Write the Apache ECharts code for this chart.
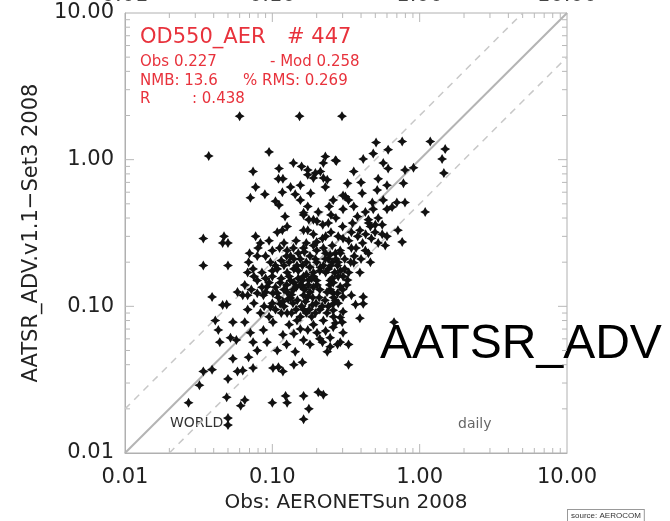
<!DOCTYPE html>
<html><head><meta charset="utf-8">
<script src="https://cdn.jsdelivr.net/npm/echarts@6/dist/echarts.min.js"></script>
<style>html,body{margin:0;padding:0;background:#fff}#c{width:670px;height:521px}</style>
</head><body><div id="c"></div>
<script>
const obsModPairs = [
[0.060,1.98],[0.153,1.98],[0.297,1.98],
[0.037,1.06],[0.095,1.13],[0.074,0.83],[0.111,0.87],[0.139,0.95],[0.158,0.90],[0.222,0.95],[0.229,1.05],[0.272,0.98],[0.174,0.79],
[0.190,0.75],[0.212,0.83],[0.236,0.73],[0.110,0.74],[0.118,0.74],[0.077,0.65],[0.133,0.65],[0.155,0.67],[0.182,0.59],[0.117,0.60],
[0.071,0.55],[0.089,0.58],[0.105,0.52],[0.111,0.49],[0.143,0.58],[0.229,0.65],[0.259,0.53],[0.313,0.56],[0.174,0.48],[0.122,0.41],
[0.163,0.42],[0.177,0.39],[0.205,0.44],[0.243,0.48],[0.201,0.38],[0.240,0.37],[0.302,0.46],[0.108,0.32],[0.117,0.33],[0.126,0.35],
[0.163,0.33],[0.190,0.31],[0.034,0.29],[0.047,0.30],[0.046,0.27],[0.050,0.27],[0.077,0.30],[0.083,0.27],[0.080,0.25],[0.070,0.23],
[0.079,0.22],[0.034,0.19],[0.050,0.19],[0.069,0.20],[0.097,0.20],[0.126,0.24],[0.139,0.25],[0.163,0.25],[0.190,0.26],[0.219,0.29],
[0.222,0.25],[0.255,0.26],[0.268,0.23],[0.302,0.29],[0.240,0.21],[0.196,0.21],[0.155,0.21],[0.133,0.22],[0.147,0.19],[0.108,0.18],
[0.126,0.17],[0.085,0.17],[0.074,0.18],[0.079,0.15],[0.100,0.16],[0.113,0.145],[0.133,0.15],[0.163,0.16],[0.190,0.17],[0.222,0.19],
[0.277,0.19],[0.302,0.16],[0.247,0.15],[0.201,0.14],[0.039,0.116],[0.058,0.125],[0.063,0.119],[0.087,0.119],[0.101,0.123],[0.126,0.125],
[0.163,0.119],[0.259,0.123],
[0.506,1.31],[0.761,1.33],[1.18,1.33],[1.49,1.18],[1.42,1.01],[1.46,0.81],[0.484,1.10],[0.611,1.17],[0.414,1.01],[0.566,0.95],
[0.611,0.87],[0.357,0.83],[0.268,0.99],[0.174,0.85],[0.196,0.81],[0.222,0.75],[0.795,0.85],[0.908,0.88],[0.776,0.69],[0.523,0.74],
[0.400,0.70],[0.324,0.69],[0.600,0.67],[0.407,0.59],[0.515,0.62],[0.302,0.57],[0.329,0.53],[0.357,0.48],[0.477,0.51],[0.566,0.53],
[0.600,0.46],[0.700,0.51],[0.795,0.51],[0.650,0.475],[0.484,0.46],[0.428,0.44],[1.09,0.44],[0.378,0.41],[0.449,0.39],[0.523,0.40],
[0.557,0.36],[0.463,0.35],[0.498,0.32],[0.557,0.31],[0.600,0.30],[0.712,0.33],[0.761,0.275],[0.393,0.33],[0.344,0.32],[0.190,0.39],
[0.174,0.33],[0.344,0.25],[0.428,0.24],[0.449,0.23],[0.523,0.27],[0.584,0.26],[0.289,0.24],[0.247,0.225],[0.229,0.21],[0.255,0.20],
[0.357,0.198],[0.463,0.20],[0.393,0.17],[0.212,0.184],[0.190,0.16],[0.177,0.151],[0.259,0.145],[0.324,0.151],[0.277,0.123],[0.414,0.116],
[0.163,0.134],[0.174,0.116],[0.155,0.53],[0.163,0.435],
[0.046,0.102],[0.049,0.103],[0.041,0.080],[0.043,0.069],[0.044,0.057],[0.054,0.078],[0.052,0.061],[0.057,0.059],[0.054,0.044],[0.068,0.095],
[0.065,0.078],[0.071,0.066],[0.074,0.057],[0.079,0.050],[0.069,0.045],[0.074,0.038],[0.063,0.0365],[0.058,0.036],[0.050,0.032],[0.039,0.037],
[0.034,0.036],[0.032,0.029],[0.027,0.022],[0.049,0.024],[0.065,0.023],[0.061,0.021],[0.050,0.0173],[0.050,0.0155],[0.100,0.022],[0.123,0.0245],
[0.126,0.022],[0.163,0.0245],[0.177,0.020],[0.163,0.017],[0.205,0.026],[0.222,0.025],[0.101,0.038],[0.110,0.0385],[0.118,0.036],[0.092,0.057],
[0.108,0.050],[0.143,0.049],[0.160,0.0415],[0.087,0.069],[0.101,0.078],[0.118,0.064],[0.083,0.090],[0.097,0.099],[0.113,0.104],[0.133,0.114],
[0.079,0.123],[0.092,0.136],[0.108,0.123],[0.139,0.130],[0.187,0.102],[0.163,0.095],[0.196,0.090],[0.222,0.080],[0.147,0.080],[0.174,0.069],
[0.201,0.066],[0.163,0.059],[0.219,0.057],[0.236,0.049],[0.247,0.061],[0.259,0.072],[0.289,0.057],[0.329,0.040],[0.259,0.104],[0.302,0.116],
[0.247,0.130],[0.289,0.084],[0.126,0.090],[0.068,0.119],
[0.289,0.136],[0.344,0.119],[0.414,0.104],[0.367,0.103],[0.268,0.110],[0.259,0.094],[0.302,0.092],[0.393,0.083],[0.298,0.078],[0.268,0.077],
[0.302,0.066],[0.277,0.055],[0.329,0.055],[0.247,0.053],[0.670,0.078],
[0.095,0.145],[0.105,0.135],[0.115,0.155],[0.12,0.13],[0.125,0.14],[0.13,0.16],[0.135,0.12],[0.14,0.145],[0.145,0.135],[0.15,0.155],
[0.155,0.14],[0.16,0.15],[0.165,0.13],[0.17,0.165],[0.175,0.14],[0.18,0.125],[0.185,0.155],[0.19,0.135],[0.2,0.15],[0.21,0.13],
[0.11,0.115],[0.118,0.108],[0.128,0.112],[0.138,0.105],[0.148,0.11],[0.158,0.1],[0.168,0.108],[0.178,0.095],[0.188,0.115],[0.198,0.105],
[0.208,0.115],[0.218,0.1],[0.228,0.11],[0.235,0.125],[0.245,0.14],[0.255,0.155],[0.265,0.17],[0.28,0.16],[0.29,0.175],[0.31,0.18],
[0.12,0.19],[0.13,0.2],[0.14,0.18],[0.15,0.175],[0.16,0.19],[0.17,0.2],[0.18,0.185],[0.2,0.2],[0.21,0.175],[0.23,0.17],
[0.24,0.18],[0.25,0.19],[0.27,0.21],[0.28,0.2],[0.1,0.175],[0.105,0.19],[0.09,0.155],[0.085,0.135],[0.09,0.125],[0.1,0.105],
[0.105,0.095],[0.115,0.09],[0.12,0.1],[0.135,0.09],[0.145,0.095],[0.155,0.085],[0.17,0.09],[0.185,0.085],[0.21,0.095],[0.235,0.09],
[0.24,0.1],[0.26,0.115],[0.28,0.105],[0.3,0.13],[0.32,0.14],[0.33,0.17],[0.34,0.2],[0.36,0.22],[0.31,0.21],[0.29,0.23],
[0.23,0.23],[0.2,0.24],[0.18,0.22],[0.165,0.235],[0.15,0.23],[0.14,0.21],[0.125,0.22],[0.115,0.205],[0.112,0.25],[0.12,0.27],
[0.145,0.28],[0.17,0.27],[0.2,0.275],[0.23,0.3],[0.25,0.32],[0.28,0.3],[0.33,0.28],[0.38,0.3],[0.41,0.27],[0.37,0.25],
[0.4,0.21],[0.43,0.31],[0.47,0.29],[0.5,0.36],[0.45,0.37],[0.35,0.37],[0.3,0.35],[0.27,0.4],[0.25,0.42],[0.22,0.36],
[0.095,0.085],[0.088,0.1],[0.075,0.105],[0.072,0.13],[0.065,0.14],[0.075,0.16],[0.068,0.17],[0.09,0.22],[0.1,0.24],[0.095,0.28],
[0.14,0.065],[0.13,0.075],[0.155,0.07],[0.19,0.075],[0.21,0.06],[0.23,0.068],[0.26,0.085],[0.18,0.055],[0.125,0.055],[0.14,0.04]
];
const axisMin = 0.01, axisMax = 10;
const majorTickValues = [0.1, 1];
const minorTickValues = [0.02,0.03,0.04,0.05,0.06,0.07,0.08,0.09,0.2,0.3,0.4,0.5,0.6,0.7,0.8,0.9,2,3,4,5,6,7,8,9];
const topCutLabels = ['0.01','0.10','1.00','10.00'];
const topCutLabelValues = [0.01,0.1,1,10];
const statsTitle = 'OD550_AER', statsCount = '# 447';
const statsObs = 'Obs 0.227', statsMod = '- Mod 0.258';
const statsNmb = 'NMB: 13.6', statsRms = '% RMS: 0.269';
const statsRLabel = 'R', statsR = ': 0.438';

const chart = echarts.init(document.getElementById('c'), null, {renderer:'canvas'});
const GL = 125, GT = 13, GW = 442, GH = 440;
const F = 'DejaVu Sans';
const red = '#e8323c';
const star = 'path://M0,-10 L3.6,-3.6 L10,0 L3.6,3.6 L0,10 L-3.6,3.6 L-10,0 L-3.6,-3.6 Z';
const allTicks = majorTickValues.concat(minorTickValues);

function tickRenderer(isX){
  return function(params, api){
    const v = api.value(isX ? 0 : 1);
    const len = majorTickValues.indexOf(v) >= 0 ? 9 : 5;
    const st = {stroke:'#b8b8b8', lineWidth:1};
    if (isX){
      const b = api.coord([v, axisMin]), t = api.coord([v, axisMax]);
      return {type:'group', children:[
        {type:'line', shape:{x1:b[0], y1:b[1], x2:b[0], y2:b[1]-len}, style:st},
        {type:'line', shape:{x1:t[0], y1:t[1], x2:t[0], y2:t[1]+len}, style:st}
      ]};
    } else {
      const l = api.coord([axisMin, v]), r = api.coord([axisMax, v]);
      return {type:'group', children:[
        {type:'line', shape:{x1:l[0], y1:l[1], x2:l[0]+len, y2:l[1]}, style:st},
        {type:'line', shape:{x1:r[0], y1:r[1], x2:r[0]-len, y2:r[1]}, style:st}
      ]};
    }
  };
}

const axisCommon = {
  type:'log', logBase:10, min:axisMin, max:axisMax,
  axisLine:{show:true, lineStyle:{color:'#b0b0b0', width:1}},
  axisTick:{show:false}, minorTick:{show:false}, splitLine:{show:false},
  axisLabel:{color:'#222', fontFamily:F, fontSize:21, formatter: v => Number(v).toFixed(2)},
  nameLocation:'middle', nameTextStyle:{color:'#222', fontFamily:F, fontSize:20}
};

const graphics = [];
function txt(x, y, text, size, color, extra){
  graphics.push(Object.assign({type:'text', x:x, y:y, silent:true,
    style:{text:text, fill:color, font: size + 'px "' + F + '"', textVerticalAlign:'middle'}}, extra||{}));
}
txt(140, 38, statsTitle, 21, red);
txt(287, 38, statsCount, 21, red);
txt(140, 62, statsObs, 15, red);
txt(270, 62, statsMod, 15, red);
txt(140, 81, statsNmb, 15, red);
txt(243, 81, statsRms, 15, red);
txt(140, 99, statsRLabel, 15, red);
txt(192, 99, statsR, 15, red);
txt(170, 423, 'WORLD', 14, '#333');
txt(458, 424, 'daily', 14, '#666');
graphics.push({type:'text', x:380, y:345, silent:true, style:{text:'AATSR_ADV', fill:'#000', font:'48px "Liberation Sans"', textVerticalAlign:'middle'}});
graphics.push({type:'text', x:568, y:510, silent:true, style:{text:'source: AEROCOM', fill:'#333', font:'8px "Liberation Sans"', backgroundColor:'#fff', borderColor:'#999', borderWidth:1, padding:[2,3,2,3]}});

const option = {
  backgroundColor:'#fff',
  animation:false,
  grid:{left:GL, top:GT, width:GW, height:GH, show:true, borderColor:'#b0b0b0', borderWidth:1, backgroundColor:'transparent'},
  xAxis: Object.assign({}, axisCommon, {name:'Obs: AERONETSun 2008', nameGap:40,
    axisLabel: Object.assign({}, axisCommon.axisLabel, {margin:14})}),
  yAxis: Object.assign({}, axisCommon, {name:'AATSR_ADV.v1.1\u2212Set3 2008', nameGap:83,
    nameTextStyle:{color:'#222', fontFamily:F, fontSize:21},
    axisLabel: Object.assign({}, axisCommon.axisLabel, {margin:11})}),
  series:[
    {type:'line', data:[[axisMin,axisMin],[axisMax,axisMax]], symbol:'none', silent:true, z:1,
     lineStyle:{color:'#b4b4b4', width:2}},
    {type:'line', data:[[axisMin,axisMin*2],[axisMax/2,axisMax]], symbol:'none', silent:true, z:1,
     lineStyle:{color:'#c8c8c8', width:1.5, type:[7,6]}},
    {type:'line', data:[[axisMin*2,axisMin],[axisMax,axisMax/2]], symbol:'none', silent:true, z:1,
     lineStyle:{color:'#c8c8c8', width:1.5, type:[7,6]}},
    {type:'custom', renderItem:tickRenderer(true), data:allTicks.map(v => [v, 1]), silent:true, z:1},
    {type:'custom', renderItem:tickRenderer(false), data:allTicks.map(v => [1, v]), silent:true, z:1},
    {type:'scatter', data:obsModPairs, symbol:star, symbolSize:10, z:3,
     itemStyle:{color:'#111', opacity:1}}
  ],
  graphic: graphics.concat(topCutLabelValues.map((v, i) => ({
    type:'text', x: GL + GW * (Math.log10(v) + 2) / 3, y: -4, silent:true,
    style:{text: topCutLabels[i], fill:'#444', font:'21px "DejaVu Sans"', textAlign:'center', textVerticalAlign:'middle'}
  })))
};
chart.setOption(option);
</script>
</body></html>
